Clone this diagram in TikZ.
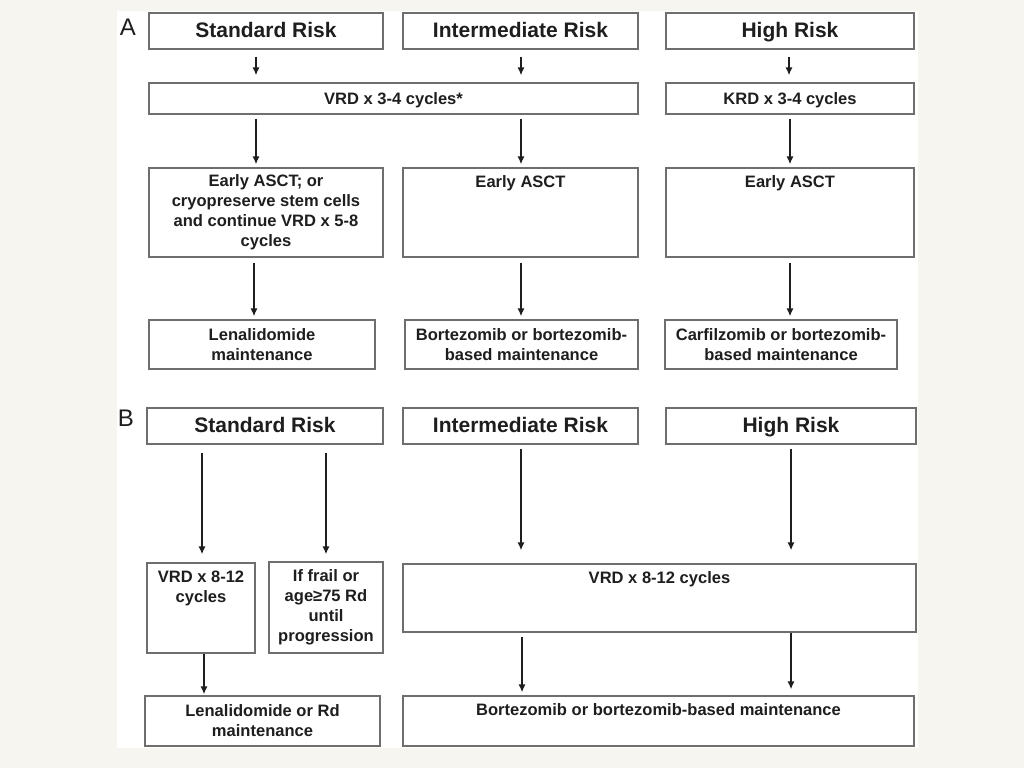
\documentclass[tikz,border=0pt]{standalone}
\usepackage{fontspec}
\setmainfont{Liberation Sans}
\usetikzlibrary{arrows.meta,positioning}
\definecolor{cream}{HTML}{F7F5EF}
\definecolor{boxgray}{HTML}{6E6E6E}
\definecolor{ink}{HTML}{1E1E1E}
\tikzset{
  sz/.style 2 args={minimum width=#1*0.75pt,minimum height=#2*0.75pt},
  box/.style={draw=boxgray,line width=1.1pt,fill=white,inner sep=0pt,text=ink,
    font=\bfseries\fontsize{12.4}{15}\selectfont,align=center},
  one/.style={text height=10pt,text depth=1.2pt},
  head/.style={box,font=\bfseries\fontsize{15.75}{18}\selectfont,text height=12pt,text depth=2.3pt},
  txt/.style={inner sep=0pt,text=ink,font=\bfseries\fontsize{12.4}{15}\selectfont,align=center,anchor=north},
  panel/.style={inner sep=0pt,text=ink,font=\fontsize{18}{20}\selectfont},
  arr/.style={-{Latex[length=6pt,width=5.5pt]},line width=1.1pt,ink}
}
\begin{document}
\begin{tikzpicture}[x=0.75pt,y=-0.75pt]
\useasboundingbox (0,0) rectangle (1024,768);
\fill[cream] (0,0) rectangle (1024,768);
\fill[white] (117,11) rectangle (918,748);
% ---------- Panel A ----------
\node[panel] (lA) at (128,27) {A};
\node[head,sz={234}{36}] (a1) at (266,31) {Standard Risk};
\node[head,sz={235}{36}] (a2) at (520.5,31) {Intermediate Risk};
\node[head,sz={248}{36}] (a3) at (790,31) {High Risk};
\node[box,one,sz={489}{31}] (a4) at (393.5,98.5) {VRD x 3-4 cycles*};
\node[box,one,sz={248}{31}] (a5) at (790,98.5) {KRD x 3-4 cycles};
\node[box,sz={234}{89}] (a6) at (266,212.5) {Early ASCT; or\\cryopreserve stem cells\\and continue VRD x 5-8\\cycles};
\node[box,sz={235}{89}] (a7) at (520.5,212.5) {};
\node[txt,yshift=-6pt] (a7t) at (a7.north) {Early ASCT};
\node[box,sz={248}{89}] (a8) at (790,212.5) {};
\node[txt,yshift=-6pt] (a8t) at (a8.north) {Early ASCT};
\node[box,sz={226}{49}] (a9) at (262,344.5) {Lenalidomide\\maintenance};
\node[box,sz={233}{49}] (a10) at (521.5,344.5) {Bortezomib or bortezomib-\\based maintenance};
\node[box,sz={232}{49}] (a11) at (781,344.5) {Carfilzomib or bortezomib-\\based maintenance};
% arrow columns
\coordinate (x256) at (256,0);
\coordinate (x254) at (254,0);
\coordinate (x521) at (521,0);
\coordinate (x789) at (789,0);
\coordinate (x790) at (790,0);
\draw[arr,shorten <=5.25pt,shorten >=5.25pt] (a1.south -| x256) -- (a4.north -| x256);
\draw[arr,shorten <=5.25pt,shorten >=5.25pt] (a2.south -| x521) -- (a4.north -| x521);
\draw[arr,shorten <=5.25pt,shorten >=5.25pt] (a3.south -| x789) -- (a5.north -| x789);
\draw[arr,shorten <=3pt,shorten >=2.25pt] (a4.south -| x256) -- (a6.north -| x256);
\draw[arr,shorten <=3pt,shorten >=2.25pt] (a4.south -| x521) -- (a7.north -| x521);
\draw[arr,shorten <=3pt,shorten >=2.25pt] (a5.south -| x790) -- (a8.north -| x790);
\draw[arr,shorten <=3.75pt,shorten >=2.25pt] (a6.south -| x254) -- (a9.north -| x254);
\draw[arr,shorten <=3.75pt,shorten >=2.25pt] (a7.south -| x521) -- (a10.north -| x521);
\draw[arr,shorten <=3.75pt,shorten >=2.25pt] (a8.south -| x790) -- (a11.north -| x790);
% ---------- Panel B ----------
\node[panel] (lB) at (126,418) {B};
\node[head,sz={236}{36}] (b1) at (265,426) {Standard Risk};
\node[head,sz={235}{36}] (b2) at (520.5,426) {Intermediate Risk};
\node[head,sz={250}{36}] (b3) at (791,426) {High Risk};
\node[box,sz={108}{90}] (b4) at (201,608) {};
\node[txt,yshift=-6pt] (b4t) at (b4.north) {VRD x 8-12\\cycles};
\node[box,sz={114}{91}] (b5) at (326,607.5) {If frail or\\age≥75 Rd\\until\\progression};
\node[box,sz={513}{68}] (b6) at (659.5,598) {};
\node[txt,yshift=-6pt] (b6t) at (b6.north) {VRD x 8-12 cycles};
\node[box,sz={235}{50}] (b7) at (262.5,721) {Lenalidomide or Rd\\maintenance};
\node[box,sz={511}{50}] (b8) at (658.5,721) {};
\node[txt,yshift=-6pt] (b8t) at (b8.north) {Bortezomib or bortezomib-based maintenance};
\coordinate (x202) at (202,0);
\coordinate (x204) at (204,0);
\coordinate (x326) at (326,0);
\coordinate (x522) at (522,0);
\coordinate (x791) at (791,0);
\draw[arr,shorten <=6pt,shorten >=6pt] (b1.south -| x202) -- (b4.north -| x202);
\draw[arr,shorten <=6pt,shorten >=5.25pt] (b1.south -| x326) -- (b5.north -| x326);
\draw[arr,shorten <=3pt,shorten >=9.75pt] (b2.south -| x521) -- (b6.north -| x521);
\draw[arr,shorten <=3pt,shorten >=9.75pt] (b3.south -| x791) -- (b6.north -| x791);
\draw[arr,shorten >=0.75pt] (b4.south -| x204) -- (b7.north -| x204);
\draw[arr,shorten <=3pt,shorten >=2.25pt] (b6.south -| x522) -- (b8.north -| x522);
\draw[arr,shorten >=4.5pt] (b6.south -| x791) -- (b8.north -| x791);
\end{tikzpicture}
\end{document}
